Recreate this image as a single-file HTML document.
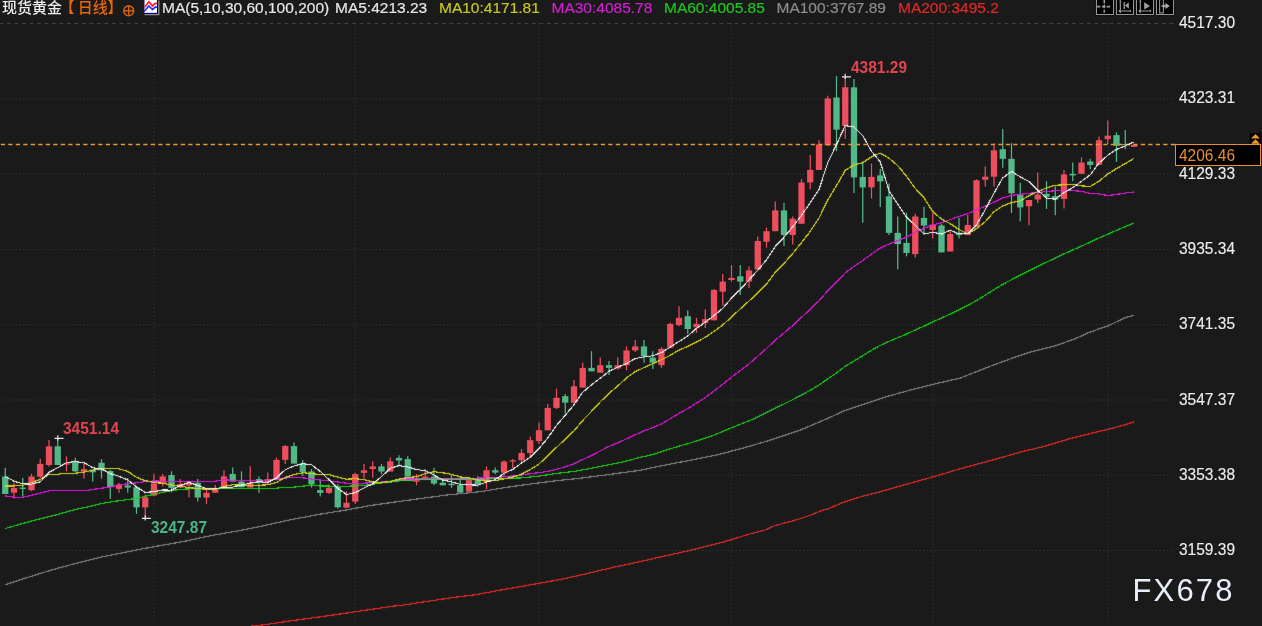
<!DOCTYPE html>
<html lang="zh-CN"><head><meta charset="utf-8"><title>现货黄金 日线</title>
<style>
html,body{margin:0;padding:0;background:#1a1a1a;}
body{width:1262px;height:626px;overflow:hidden;position:relative;font-family:"Liberation Sans","Noto Sans CJK SC",sans-serif;}
#chart{position:absolute;left:0;top:0;}
.t{position:absolute;white-space:nowrap;line-height:1;}
.lg{font-size:15.5px;top:-0.4px;-webkit-text-stroke:0.2px currentColor;}
.cj{font-size:15px;font-weight:500;font-family:'Liberation Sans','Noto Sans CJK SC',sans-serif;}
.ax{font-size:16.4px;color:#ececec;left:1178.5px;-webkit-text-stroke:0.15px currentColor;transform:scaleX(0.945);transform-origin:0 0;}
.b{font-weight:bold;font-size:16.4px;transform:scaleX(0.945);transform-origin:0 0;}
.btn{position:absolute;top:-4px;height:17.3px;width:16.1px;border:1.2px solid #959595;background:#000;box-shadow:0 0 1.5px 0.5px #0c0c0c;}
</style></head><body>
<svg id="chart" width="1262" height="626" viewBox="0 0 1262 626">
<g stroke="#3a3a3a" stroke-width="1" fill="none">
<line x1="0" y1="23.5" x2="1174" y2="23.5" stroke-dasharray="3.8 3.7" stroke-dashoffset="0.5" stroke="#424242"/>
<line x1="0.75" y1="98.8" x2="1174" y2="98.8" stroke-dasharray="1.2 2.55"/>
<line x1="0.75" y1="174.1" x2="1174" y2="174.1" stroke-dasharray="1.2 2.55"/>
<line x1="0.75" y1="249.4" x2="1174" y2="249.4" stroke-dasharray="1.2 2.55"/>
<line x1="0.75" y1="324.7" x2="1174" y2="324.7" stroke-dasharray="1.2 2.55"/>
<line x1="0.75" y1="400.0" x2="1174" y2="400.0" stroke-dasharray="1.2 2.55"/>
<line x1="0.75" y1="475.3" x2="1174" y2="475.3" stroke-dasharray="1.2 2.55"/>
<line x1="0.75" y1="550.6" x2="1174" y2="550.6" stroke-dasharray="1.2 2.55"/>
<line x1="153.9" y1="22.6" x2="153.9" y2="626" stroke-dasharray="1.2 2.55"/>
<line x1="355.1" y1="22.6" x2="355.1" y2="626" stroke-dasharray="1.2 2.55"/>
<line x1="539.0" y1="22.6" x2="539.0" y2="626" stroke-dasharray="1.2 2.55"/>
<line x1="731.4" y1="22.6" x2="731.4" y2="626" stroke-dasharray="1.2 2.55"/>
<line x1="932.9" y1="22.6" x2="932.9" y2="626" stroke-dasharray="1.2 2.55"/>
<line x1="1108.1" y1="22.6" x2="1108.1" y2="626" stroke-dasharray="1.2 2.55"/>
</g>
<rect x="1176" y="38.1" width="1" height="1" fill="#262626"/><rect x="1176" y="53.1" width="1" height="1" fill="#262626"/><rect x="1176" y="68.2" width="1" height="1" fill="#262626"/><rect x="1176" y="83.2" width="1" height="1" fill="#262626"/><rect x="1176" y="113.4" width="1" height="1" fill="#262626"/><rect x="1176" y="128.4" width="1" height="1" fill="#262626"/><rect x="1176" y="143.5" width="1" height="1" fill="#262626"/><rect x="1176" y="158.5" width="1" height="1" fill="#262626"/><rect x="1176" y="188.7" width="1" height="1" fill="#262626"/><rect x="1176" y="203.7" width="1" height="1" fill="#262626"/><rect x="1176" y="218.8" width="1" height="1" fill="#262626"/><rect x="1176" y="233.8" width="1" height="1" fill="#262626"/><rect x="1176" y="264.0" width="1" height="1" fill="#262626"/><rect x="1176" y="279.0" width="1" height="1" fill="#262626"/><rect x="1176" y="294.1" width="1" height="1" fill="#262626"/><rect x="1176" y="309.1" width="1" height="1" fill="#262626"/><rect x="1176" y="339.3" width="1" height="1" fill="#262626"/><rect x="1176" y="354.3" width="1" height="1" fill="#262626"/><rect x="1176" y="369.4" width="1" height="1" fill="#262626"/><rect x="1176" y="384.4" width="1" height="1" fill="#262626"/><rect x="1176" y="414.6" width="1" height="1" fill="#262626"/><rect x="1176" y="429.6" width="1" height="1" fill="#262626"/><rect x="1176" y="444.7" width="1" height="1" fill="#262626"/><rect x="1176" y="459.7" width="1" height="1" fill="#262626"/><rect x="1176" y="489.9" width="1" height="1" fill="#262626"/><rect x="1176" y="504.9" width="1" height="1" fill="#262626"/><rect x="1176" y="520.0" width="1" height="1" fill="#262626"/><rect x="1176" y="535.0" width="1" height="1" fill="#262626"/><rect x="1176" y="565.2" width="1" height="1" fill="#262626"/><rect x="1176" y="580.2" width="1" height="1" fill="#262626"/><rect x="1176" y="595.3" width="1" height="1" fill="#262626"/><rect x="1176" y="610.3" width="1" height="1" fill="#262626"/>
<g id="candles" shape-rendering="auto">
<line x1="5.25" y1="467.8" x2="5.25" y2="494.0" stroke="#53b888" stroke-width="1.25"/>
<rect x="2.10" y="476.5" width="6.30" height="17.5" fill="#53b888"/>
<line x1="14.00" y1="483.1" x2="14.00" y2="498.5" stroke="#ec4e5c" stroke-width="1.25"/>
<rect x="10.85" y="488.0" width="6.30" height="4.7" fill="#ec4e5c"/>
<line x1="22.75" y1="477.8" x2="22.75" y2="496.5" stroke="#53b888" stroke-width="1.25"/>
<rect x="19.60" y="487.6" width="6.30" height="1.3" fill="#53b888"/>
<line x1="31.50" y1="473.9" x2="31.50" y2="491.4" stroke="#ec4e5c" stroke-width="1.25"/>
<rect x="28.35" y="476.5" width="6.30" height="13.7" fill="#ec4e5c"/>
<line x1="40.25" y1="458.8" x2="40.25" y2="478.3" stroke="#ec4e5c" stroke-width="1.25"/>
<rect x="37.10" y="463.9" width="6.30" height="12.8" fill="#ec4e5c"/>
<line x1="49.00" y1="439.9" x2="49.00" y2="466.5" stroke="#ec4e5c" stroke-width="1.25"/>
<rect x="45.85" y="446.3" width="6.30" height="18.7" fill="#ec4e5c"/>
<line x1="57.75" y1="438.1" x2="57.75" y2="465.0" stroke="#53b888" stroke-width="1.25"/>
<rect x="54.60" y="446.3" width="6.30" height="18.7" fill="#53b888"/>
<line x1="66.50" y1="456.3" x2="66.50" y2="471.4" stroke="#ec4e5c" stroke-width="1.25"/>
<rect x="63.35" y="463.3" width="6.30" height="1.3" fill="#ec4e5c"/>
<line x1="75.25" y1="457.8" x2="75.25" y2="472.3" stroke="#53b888" stroke-width="1.25"/>
<rect x="72.10" y="461.6" width="6.30" height="9.7" fill="#53b888"/>
<line x1="84.00" y1="463.9" x2="84.00" y2="478.6" stroke="#ec4e5c" stroke-width="1.25"/>
<rect x="80.85" y="469.1" width="6.30" height="2.6" fill="#ec4e5c"/>
<line x1="92.75" y1="469.7" x2="92.75" y2="481.6" stroke="#53b888" stroke-width="1.25"/>
<rect x="89.60" y="469.7" width="6.30" height="2.6" fill="#53b888"/>
<line x1="101.50" y1="459.1" x2="101.50" y2="478.6" stroke="#53b888" stroke-width="1.25"/>
<rect x="98.35" y="462.7" width="6.30" height="7.7" fill="#53b888"/>
<line x1="110.25" y1="470.1" x2="110.25" y2="498.7" stroke="#53b888" stroke-width="1.25"/>
<rect x="107.10" y="471.0" width="6.30" height="16.2" fill="#53b888"/>
<line x1="119.00" y1="482.9" x2="119.00" y2="492.7" stroke="#ec4e5c" stroke-width="1.25"/>
<rect x="115.85" y="484.7" width="6.30" height="4.2" fill="#ec4e5c"/>
<line x1="127.75" y1="478.0" x2="127.75" y2="492.7" stroke="#53b888" stroke-width="1.25"/>
<rect x="124.60" y="485.4" width="6.30" height="2.2" fill="#53b888"/>
<line x1="136.50" y1="487.2" x2="136.50" y2="513.8" stroke="#53b888" stroke-width="1.25"/>
<rect x="133.35" y="487.2" width="6.30" height="20.2" fill="#53b888"/>
<line x1="145.25" y1="494.4" x2="145.25" y2="517.5" stroke="#ec4e5c" stroke-width="1.25"/>
<rect x="142.10" y="497.2" width="6.30" height="10.2" fill="#ec4e5c"/>
<line x1="154.00" y1="473.9" x2="154.00" y2="496.2" stroke="#ec4e5c" stroke-width="1.25"/>
<rect x="150.85" y="483.5" width="6.30" height="12.1" fill="#ec4e5c"/>
<line x1="162.75" y1="473.9" x2="162.75" y2="486.6" stroke="#ec4e5c" stroke-width="1.25"/>
<rect x="159.60" y="476.4" width="6.30" height="7.0" fill="#ec4e5c"/>
<line x1="171.50" y1="471.3" x2="171.50" y2="492.4" stroke="#53b888" stroke-width="1.25"/>
<rect x="168.35" y="475.1" width="6.30" height="12.8" fill="#53b888"/>
<line x1="180.25" y1="479.0" x2="180.25" y2="487.5" stroke="#ec4e5c" stroke-width="1.25"/>
<rect x="177.10" y="484.1" width="6.30" height="3.5" fill="#ec4e5c"/>
<line x1="189.00" y1="480.9" x2="189.00" y2="497.5" stroke="#ec4e5c" stroke-width="1.25"/>
<rect x="185.85" y="482.8" width="6.30" height="2.6" fill="#ec4e5c"/>
<line x1="197.75" y1="479.0" x2="197.75" y2="501.6" stroke="#53b888" stroke-width="1.25"/>
<rect x="194.60" y="482.8" width="6.30" height="14.7" fill="#53b888"/>
<line x1="206.50" y1="490.1" x2="206.50" y2="503.9" stroke="#ec4e5c" stroke-width="1.25"/>
<rect x="203.35" y="492.7" width="6.30" height="4.9" fill="#ec4e5c"/>
<line x1="215.25" y1="485.0" x2="215.25" y2="492.7" stroke="#ec4e5c" stroke-width="1.25"/>
<rect x="212.10" y="489.2" width="6.30" height="3.5" fill="#ec4e5c"/>
<line x1="224.00" y1="470.0" x2="224.00" y2="487.3" stroke="#ec4e5c" stroke-width="1.25"/>
<rect x="220.85" y="476.4" width="6.30" height="10.9" fill="#ec4e5c"/>
<line x1="232.75" y1="467.5" x2="232.75" y2="481.5" stroke="#53b888" stroke-width="1.25"/>
<rect x="229.60" y="473.9" width="6.30" height="7.7" fill="#53b888"/>
<line x1="241.50" y1="471.3" x2="241.50" y2="487.3" stroke="#53b888" stroke-width="1.25"/>
<rect x="238.35" y="481.5" width="6.30" height="5.8" fill="#53b888"/>
<line x1="250.25" y1="466.2" x2="250.25" y2="487.5" stroke="#ec4e5c" stroke-width="1.25"/>
<rect x="247.10" y="482.8" width="6.30" height="4.7" fill="#ec4e5c"/>
<line x1="259.00" y1="476.4" x2="259.00" y2="492.7" stroke="#53b888" stroke-width="1.25"/>
<rect x="255.85" y="479.0" width="6.30" height="3.8" fill="#53b888"/>
<line x1="267.75" y1="472.6" x2="267.75" y2="484.1" stroke="#ec4e5c" stroke-width="1.25"/>
<rect x="264.60" y="479.0" width="6.30" height="3.2" fill="#ec4e5c"/>
<line x1="276.50" y1="457.6" x2="276.50" y2="479.0" stroke="#ec4e5c" stroke-width="1.25"/>
<rect x="273.35" y="459.8" width="6.30" height="19.2" fill="#ec4e5c"/>
<line x1="285.25" y1="445.1" x2="285.25" y2="464.0" stroke="#ec4e5c" stroke-width="1.25"/>
<rect x="282.10" y="446.1" width="6.30" height="13.7" fill="#ec4e5c"/>
<line x1="294.00" y1="442.6" x2="294.00" y2="463.6" stroke="#53b888" stroke-width="1.25"/>
<rect x="290.85" y="446.1" width="6.30" height="17.5" fill="#53b888"/>
<line x1="302.75" y1="460.0" x2="302.75" y2="476.0" stroke="#53b888" stroke-width="1.25"/>
<rect x="299.60" y="463.5" width="6.30" height="8.4" fill="#53b888"/>
<line x1="311.50" y1="469.0" x2="311.50" y2="487.5" stroke="#53b888" stroke-width="1.25"/>
<rect x="308.35" y="471.5" width="6.30" height="12.8" fill="#53b888"/>
<line x1="320.25" y1="480.1" x2="320.25" y2="496.5" stroke="#53b888" stroke-width="1.25"/>
<rect x="317.10" y="490.1" width="6.30" height="2.8" fill="#53b888"/>
<line x1="329.00" y1="484.3" x2="329.00" y2="493.9" stroke="#ec4e5c" stroke-width="1.25"/>
<rect x="325.85" y="487.8" width="6.30" height="5.1" fill="#ec4e5c"/>
<line x1="337.75" y1="484.3" x2="337.75" y2="508.6" stroke="#53b888" stroke-width="1.25"/>
<rect x="334.60" y="486.9" width="6.30" height="20.4" fill="#53b888"/>
<line x1="346.50" y1="491.3" x2="346.50" y2="507.7" stroke="#ec4e5c" stroke-width="1.25"/>
<rect x="343.35" y="502.8" width="6.30" height="4.9" fill="#ec4e5c"/>
<line x1="355.25" y1="472.8" x2="355.25" y2="503.9" stroke="#ec4e5c" stroke-width="1.25"/>
<rect x="352.10" y="474.1" width="6.30" height="27.5" fill="#ec4e5c"/>
<line x1="364.00" y1="463.9" x2="364.00" y2="478.3" stroke="#ec4e5c" stroke-width="1.25"/>
<rect x="360.85" y="470.3" width="6.30" height="2.6" fill="#ec4e5c"/>
<line x1="372.75" y1="461.3" x2="372.75" y2="477.9" stroke="#ec4e5c" stroke-width="1.25"/>
<rect x="369.60" y="466.4" width="6.30" height="2.6" fill="#ec4e5c"/>
<line x1="381.50" y1="463.9" x2="381.50" y2="474.1" stroke="#53b888" stroke-width="1.25"/>
<rect x="378.35" y="466.4" width="6.30" height="5.1" fill="#53b888"/>
<line x1="390.25" y1="457.5" x2="390.25" y2="471.5" stroke="#ec4e5c" stroke-width="1.25"/>
<rect x="387.10" y="461.3" width="6.30" height="10.2" fill="#ec4e5c"/>
<line x1="399.00" y1="455.3" x2="399.00" y2="466.4" stroke="#53b888" stroke-width="1.25"/>
<rect x="395.85" y="457.9" width="6.30" height="2.6" fill="#53b888"/>
<line x1="407.75" y1="456.2" x2="407.75" y2="476.6" stroke="#53b888" stroke-width="1.25"/>
<rect x="404.60" y="459.1" width="6.30" height="17.5" fill="#53b888"/>
<line x1="416.50" y1="474.1" x2="416.50" y2="485.2" stroke="#ec4e5c" stroke-width="1.25"/>
<rect x="413.35" y="480.2" width="6.30" height="1.5" fill="#ec4e5c"/>
<line x1="425.25" y1="469.0" x2="425.25" y2="478.3" stroke="#ec4e5c" stroke-width="1.25"/>
<rect x="422.10" y="476.6" width="6.30" height="1.7" fill="#ec4e5c"/>
<line x1="434.00" y1="467.7" x2="434.00" y2="485.2" stroke="#53b888" stroke-width="1.25"/>
<rect x="430.85" y="476.6" width="6.30" height="7.0" fill="#53b888"/>
<line x1="442.75" y1="480.1" x2="442.75" y2="485.2" stroke="#53b888" stroke-width="1.25"/>
<rect x="439.60" y="482.7" width="6.30" height="2.6" fill="#53b888"/>
<line x1="451.50" y1="475.0" x2="451.50" y2="487.8" stroke="#53b888" stroke-width="1.25"/>
<rect x="448.35" y="483.7" width="6.30" height="1.5" fill="#53b888"/>
<line x1="460.25" y1="479.4" x2="460.25" y2="492.6" stroke="#53b888" stroke-width="1.25"/>
<rect x="457.10" y="485.2" width="6.30" height="7.4" fill="#53b888"/>
<line x1="469.00" y1="480.1" x2="469.00" y2="492.6" stroke="#ec4e5c" stroke-width="1.25"/>
<rect x="465.85" y="480.1" width="6.30" height="11.5" fill="#ec4e5c"/>
<line x1="477.75" y1="476.2" x2="477.75" y2="486.5" stroke="#53b888" stroke-width="1.25"/>
<rect x="474.60" y="480.1" width="6.30" height="4.2" fill="#53b888"/>
<line x1="486.50" y1="466.3" x2="486.50" y2="489.0" stroke="#ec4e5c" stroke-width="1.25"/>
<rect x="483.35" y="470.2" width="6.30" height="11.8" fill="#ec4e5c"/>
<line x1="495.25" y1="467.5" x2="495.25" y2="474.3" stroke="#53b888" stroke-width="1.25"/>
<rect x="492.10" y="470.2" width="6.30" height="2.4" fill="#53b888"/>
<line x1="504.00" y1="460.3" x2="504.00" y2="476.2" stroke="#ec4e5c" stroke-width="1.25"/>
<rect x="500.85" y="461.5" width="6.30" height="11.1" fill="#ec4e5c"/>
<line x1="512.75" y1="459.0" x2="512.75" y2="467.9" stroke="#ec4e5c" stroke-width="1.25"/>
<rect x="509.60" y="460.3" width="6.30" height="1.3" fill="#ec4e5c"/>
<line x1="521.50" y1="449.1" x2="521.50" y2="462.8" stroke="#ec4e5c" stroke-width="1.25"/>
<rect x="518.35" y="453.0" width="6.30" height="7.3" fill="#ec4e5c"/>
<line x1="530.25" y1="436.4" x2="530.25" y2="456.4" stroke="#ec4e5c" stroke-width="1.25"/>
<rect x="527.10" y="440.2" width="6.30" height="12.8" fill="#ec4e5c"/>
<line x1="539.00" y1="422.6" x2="539.00" y2="444.0" stroke="#ec4e5c" stroke-width="1.25"/>
<rect x="535.85" y="430.2" width="6.30" height="10.9" fill="#ec4e5c"/>
<line x1="547.75" y1="403.9" x2="547.75" y2="430.2" stroke="#ec4e5c" stroke-width="1.25"/>
<rect x="544.60" y="407.9" width="6.30" height="22.4" fill="#ec4e5c"/>
<line x1="556.50" y1="388.7" x2="556.50" y2="409.0" stroke="#ec4e5c" stroke-width="1.25"/>
<rect x="553.35" y="397.8" width="6.30" height="10.1" fill="#ec4e5c"/>
<line x1="565.25" y1="394.0" x2="565.25" y2="413.5" stroke="#53b888" stroke-width="1.25"/>
<rect x="562.10" y="396.2" width="6.30" height="6.5" fill="#53b888"/>
<line x1="574.00" y1="379.9" x2="574.00" y2="402.8" stroke="#ec4e5c" stroke-width="1.25"/>
<rect x="570.85" y="386.3" width="6.30" height="16.4" fill="#ec4e5c"/>
<line x1="582.75" y1="362.7" x2="582.75" y2="387.6" stroke="#ec4e5c" stroke-width="1.25"/>
<rect x="579.60" y="367.9" width="6.30" height="19.6" fill="#ec4e5c"/>
<line x1="591.50" y1="351.2" x2="591.50" y2="371.3" stroke="#53b888" stroke-width="1.25"/>
<rect x="588.35" y="367.9" width="6.30" height="3.4" fill="#53b888"/>
<line x1="600.25" y1="357.6" x2="600.25" y2="372.7" stroke="#ec4e5c" stroke-width="1.25"/>
<rect x="597.10" y="365.2" width="6.30" height="7.5" fill="#ec4e5c"/>
<line x1="609.00" y1="361.1" x2="609.00" y2="375.1" stroke="#53b888" stroke-width="1.25"/>
<rect x="605.85" y="365.2" width="6.30" height="2.7" fill="#53b888"/>
<line x1="617.75" y1="357.6" x2="617.75" y2="369.5" stroke="#ec4e5c" stroke-width="1.25"/>
<rect x="614.60" y="365.2" width="6.30" height="3.2" fill="#ec4e5c"/>
<line x1="626.50" y1="346.4" x2="626.50" y2="370.3" stroke="#ec4e5c" stroke-width="1.25"/>
<rect x="623.35" y="350.4" width="6.30" height="14.9" fill="#ec4e5c"/>
<line x1="635.25" y1="340.0" x2="635.25" y2="352.0" stroke="#ec4e5c" stroke-width="1.25"/>
<rect x="632.10" y="346.4" width="6.30" height="4.0" fill="#ec4e5c"/>
<line x1="644.00" y1="340.0" x2="644.00" y2="362.7" stroke="#53b888" stroke-width="1.25"/>
<rect x="640.85" y="346.4" width="6.30" height="9.9" fill="#53b888"/>
<line x1="652.75" y1="351.2" x2="652.75" y2="369.1" stroke="#53b888" stroke-width="1.25"/>
<rect x="649.60" y="357.6" width="6.30" height="5.1" fill="#53b888"/>
<line x1="661.50" y1="347.2" x2="661.50" y2="367.9" stroke="#ec4e5c" stroke-width="1.25"/>
<rect x="658.35" y="348.8" width="6.30" height="16.4" fill="#ec4e5c"/>
<line x1="670.25" y1="322.8" x2="670.25" y2="347.5" stroke="#ec4e5c" stroke-width="1.25"/>
<rect x="667.10" y="323.9" width="6.30" height="23.6" fill="#ec4e5c"/>
<line x1="679.00" y1="306.3" x2="679.00" y2="326.3" stroke="#ec4e5c" stroke-width="1.25"/>
<rect x="675.85" y="317.8" width="6.30" height="7.3" fill="#ec4e5c"/>
<line x1="687.75" y1="310.3" x2="687.75" y2="333.8" stroke="#53b888" stroke-width="1.25"/>
<rect x="684.60" y="316.2" width="6.30" height="12.8" fill="#53b888"/>
<line x1="696.50" y1="317.8" x2="696.50" y2="332.7" stroke="#ec4e5c" stroke-width="1.25"/>
<rect x="693.35" y="323.9" width="6.30" height="3.2" fill="#ec4e5c"/>
<line x1="705.25" y1="309.2" x2="705.25" y2="327.9" stroke="#ec4e5c" stroke-width="1.25"/>
<rect x="702.10" y="319.1" width="6.30" height="3.7" fill="#ec4e5c"/>
<line x1="714.00" y1="289.1" x2="714.00" y2="320.4" stroke="#ec4e5c" stroke-width="1.25"/>
<rect x="710.85" y="290.0" width="6.30" height="30.3" fill="#ec4e5c"/>
<line x1="722.75" y1="274.1" x2="722.75" y2="305.5" stroke="#ec4e5c" stroke-width="1.25"/>
<rect x="719.60" y="281.6" width="6.30" height="10.1" fill="#ec4e5c"/>
<line x1="731.50" y1="265.1" x2="731.50" y2="281.6" stroke="#ec4e5c" stroke-width="1.25"/>
<rect x="728.35" y="277.9" width="6.30" height="2.1" fill="#ec4e5c"/>
<line x1="740.25" y1="265.1" x2="740.25" y2="295.1" stroke="#53b888" stroke-width="1.25"/>
<rect x="737.10" y="276.3" width="6.30" height="5.3" fill="#53b888"/>
<line x1="749.00" y1="266.4" x2="749.00" y2="287.9" stroke="#ec4e5c" stroke-width="1.25"/>
<rect x="745.85" y="270.4" width="6.30" height="11.2" fill="#ec4e5c"/>
<line x1="757.75" y1="236.5" x2="757.75" y2="269.6" stroke="#ec4e5c" stroke-width="1.25"/>
<rect x="754.60" y="241.0" width="6.30" height="28.6" fill="#ec4e5c"/>
<line x1="766.50" y1="227.6" x2="766.50" y2="247.7" stroke="#ec4e5c" stroke-width="1.25"/>
<rect x="763.35" y="231.2" width="6.30" height="10.5" fill="#ec4e5c"/>
<line x1="775.25" y1="201.5" x2="775.25" y2="231.2" stroke="#ec4e5c" stroke-width="1.25"/>
<rect x="772.10" y="210.4" width="6.30" height="20.8" fill="#ec4e5c"/>
<line x1="784.00" y1="203.0" x2="784.00" y2="246.1" stroke="#53b888" stroke-width="1.25"/>
<rect x="780.85" y="210.4" width="6.30" height="24.6" fill="#53b888"/>
<line x1="792.75" y1="216.4" x2="792.75" y2="244.6" stroke="#ec4e5c" stroke-width="1.25"/>
<rect x="789.60" y="218.7" width="6.30" height="16.3" fill="#ec4e5c"/>
<line x1="801.50" y1="179.1" x2="801.50" y2="223.8" stroke="#ec4e5c" stroke-width="1.25"/>
<rect x="798.35" y="182.5" width="6.30" height="41.3" fill="#ec4e5c"/>
<line x1="810.25" y1="155.0" x2="810.25" y2="189.2" stroke="#ec4e5c" stroke-width="1.25"/>
<rect x="807.10" y="169.9" width="6.30" height="12.5" fill="#ec4e5c"/>
<line x1="819.00" y1="140.0" x2="819.00" y2="169.9" stroke="#ec4e5c" stroke-width="1.25"/>
<rect x="815.85" y="144.5" width="6.30" height="25.5" fill="#ec4e5c"/>
<line x1="827.75" y1="95.8" x2="827.75" y2="145.4" stroke="#ec4e5c" stroke-width="1.25"/>
<rect x="824.60" y="98.4" width="6.30" height="46.9" fill="#ec4e5c"/>
<line x1="836.50" y1="76.1" x2="836.50" y2="151.2" stroke="#53b888" stroke-width="1.25"/>
<rect x="833.35" y="97.5" width="6.30" height="32.2" fill="#53b888"/>
<line x1="845.25" y1="76.8" x2="845.25" y2="138.7" stroke="#ec4e5c" stroke-width="1.25"/>
<rect x="842.10" y="87.3" width="6.30" height="38.7" fill="#ec4e5c"/>
<line x1="854.00" y1="79.0" x2="854.00" y2="193.0" stroke="#53b888" stroke-width="1.25"/>
<rect x="850.85" y="87.3" width="6.30" height="90.1" fill="#53b888"/>
<line x1="862.75" y1="162.4" x2="862.75" y2="222.8" stroke="#53b888" stroke-width="1.25"/>
<rect x="859.60" y="176.9" width="6.30" height="10.5" fill="#53b888"/>
<line x1="871.50" y1="163.5" x2="871.50" y2="198.6" stroke="#ec4e5c" stroke-width="1.25"/>
<rect x="868.35" y="176.9" width="6.30" height="10.5" fill="#ec4e5c"/>
<line x1="880.25" y1="169.1" x2="880.25" y2="207.1" stroke="#53b888" stroke-width="1.25"/>
<rect x="877.10" y="175.4" width="6.30" height="6.0" fill="#53b888"/>
<line x1="889.00" y1="183.6" x2="889.00" y2="235.1" stroke="#53b888" stroke-width="1.25"/>
<rect x="885.85" y="196.4" width="6.30" height="36.5" fill="#53b888"/>
<line x1="897.75" y1="216.5" x2="897.75" y2="269.3" stroke="#53b888" stroke-width="1.25"/>
<rect x="894.60" y="232.9" width="6.30" height="11.2" fill="#53b888"/>
<line x1="906.50" y1="212.7" x2="906.50" y2="256.4" stroke="#53b888" stroke-width="1.25"/>
<rect x="903.35" y="242.9" width="6.30" height="10.1" fill="#53b888"/>
<line x1="915.25" y1="213.8" x2="915.25" y2="257.5" stroke="#ec4e5c" stroke-width="1.25"/>
<rect x="912.10" y="216.5" width="6.30" height="37.6" fill="#ec4e5c"/>
<line x1="924.00" y1="206.7" x2="924.00" y2="235.1" stroke="#53b888" stroke-width="1.25"/>
<rect x="920.85" y="217.9" width="6.30" height="7.6" fill="#53b888"/>
<line x1="932.75" y1="212.7" x2="932.75" y2="238.5" stroke="#ec4e5c" stroke-width="1.25"/>
<rect x="929.60" y="224.6" width="6.30" height="5.4" fill="#ec4e5c"/>
<line x1="941.50" y1="223.9" x2="941.50" y2="252.3" stroke="#53b888" stroke-width="1.25"/>
<rect x="938.35" y="225.5" width="6.30" height="26.9" fill="#53b888"/>
<line x1="950.25" y1="231.3" x2="950.25" y2="251.4" stroke="#ec4e5c" stroke-width="1.25"/>
<rect x="947.10" y="234.0" width="6.30" height="17.5" fill="#ec4e5c"/>
<line x1="959.00" y1="217.9" x2="959.00" y2="238.5" stroke="#53b888" stroke-width="1.25"/>
<rect x="955.85" y="232.9" width="6.30" height="2.2" fill="#53b888"/>
<line x1="967.75" y1="215.0" x2="967.75" y2="235.1" stroke="#ec4e5c" stroke-width="1.25"/>
<rect x="964.60" y="225.0" width="6.30" height="10.1" fill="#ec4e5c"/>
<line x1="976.50" y1="179.2" x2="976.50" y2="226.8" stroke="#ec4e5c" stroke-width="1.25"/>
<rect x="973.35" y="180.3" width="6.30" height="46.5" fill="#ec4e5c"/>
<line x1="985.25" y1="166.4" x2="985.25" y2="186.5" stroke="#ec4e5c" stroke-width="1.25"/>
<rect x="982.10" y="176.7" width="6.30" height="3.1" fill="#ec4e5c"/>
<line x1="994.00" y1="143.6" x2="994.00" y2="186.5" stroke="#ec4e5c" stroke-width="1.25"/>
<rect x="990.85" y="150.3" width="6.30" height="26.4" fill="#ec4e5c"/>
<line x1="1002.75" y1="129.0" x2="1002.75" y2="167.7" stroke="#53b888" stroke-width="1.25"/>
<rect x="999.60" y="149.2" width="6.30" height="9.6" fill="#53b888"/>
<line x1="1011.50" y1="143.1" x2="1011.50" y2="212.9" stroke="#53b888" stroke-width="1.25"/>
<rect x="1008.35" y="158.8" width="6.30" height="34.5" fill="#53b888"/>
<line x1="1020.25" y1="182.7" x2="1020.25" y2="221.4" stroke="#53b888" stroke-width="1.25"/>
<rect x="1017.10" y="194.6" width="6.30" height="12.8" fill="#53b888"/>
<line x1="1029.00" y1="200.0" x2="1029.00" y2="225.2" stroke="#ec4e5c" stroke-width="1.25"/>
<rect x="1025.85" y="200.0" width="6.30" height="6.3" fill="#ec4e5c"/>
<line x1="1037.75" y1="172.7" x2="1037.75" y2="202.9" stroke="#ec4e5c" stroke-width="1.25"/>
<rect x="1034.60" y="194.6" width="6.30" height="4.9" fill="#ec4e5c"/>
<line x1="1046.50" y1="181.2" x2="1046.50" y2="208.9" stroke="#53b888" stroke-width="1.25"/>
<rect x="1043.35" y="193.9" width="6.30" height="2.9" fill="#53b888"/>
<line x1="1055.25" y1="186.5" x2="1055.25" y2="215.2" stroke="#53b888" stroke-width="1.25"/>
<rect x="1052.10" y="196.1" width="6.30" height="3.4" fill="#53b888"/>
<line x1="1064.00" y1="170.0" x2="1064.00" y2="208.5" stroke="#ec4e5c" stroke-width="1.25"/>
<rect x="1060.85" y="174.4" width="6.30" height="24.6" fill="#ec4e5c"/>
<line x1="1072.75" y1="162.6" x2="1072.75" y2="181.2" stroke="#53b888" stroke-width="1.25"/>
<rect x="1069.60" y="173.8" width="6.30" height="1.6" fill="#53b888"/>
<line x1="1081.50" y1="157.4" x2="1081.50" y2="173.8" stroke="#ec4e5c" stroke-width="1.25"/>
<rect x="1078.35" y="162.6" width="6.30" height="11.2" fill="#ec4e5c"/>
<line x1="1090.25" y1="158.8" x2="1090.25" y2="169.3" stroke="#53b888" stroke-width="1.25"/>
<rect x="1087.10" y="161.5" width="6.30" height="3.4" fill="#53b888"/>
<line x1="1099.00" y1="136.4" x2="1099.00" y2="164.8" stroke="#ec4e5c" stroke-width="1.25"/>
<rect x="1095.85" y="140.2" width="6.30" height="24.6" fill="#ec4e5c"/>
<line x1="1107.75" y1="120.7" x2="1107.75" y2="144.0" stroke="#ec4e5c" stroke-width="1.25"/>
<rect x="1104.60" y="135.7" width="6.30" height="3.4" fill="#ec4e5c"/>
<line x1="1116.50" y1="132.4" x2="1116.50" y2="161.9" stroke="#53b888" stroke-width="1.25"/>
<rect x="1113.35" y="135.1" width="6.30" height="10.7" fill="#53b888"/>
<line x1="1125.25" y1="130.1" x2="1125.25" y2="149.2" stroke="#53b888" stroke-width="1.25"/>
<rect x="1122.10" y="144.0" width="6.30" height="1.0" fill="#53b888"/>
<line x1="1134.00" y1="144.9" x2="1134.00" y2="146.9" stroke="#ec4e5c" stroke-width="1.25"/>
<rect x="1130.85" y="144.9" width="6.30" height="2.0" fill="#ec4e5c"/>
</g>
<line x1="-6.7" y1="144.5" x2="1176" y2="144.5" stroke="#ee962c" stroke-width="1.3" stroke-dasharray="4.2 3.3"/>
<defs><filter id="sb" x="-1%" y="-1%" width="102%" height="102%"><feConvolveMatrix order="3" kernelMatrix="0.015 0.07 0.015 0.07 0.66 0.07 0.015 0.07 0.015" edgeMode="none" preserveAlpha="false"/></filter></defs><g filter="url(#sb)">
<polyline points="249.6,626.3 265.6,624.6 291.1,620.8 316.7,617.3 342.2,613.7 355.0,611.8 367.8,609.9 393.4,606.1 400.0,605.6 425.6,601.6 451.1,597.8 476.7,594.5 502.2,589.8 527.8,585.4 539.3,583.2 560.0,579.6 585.6,573.9 611.1,567.8 636.7,562.4 662.2,556.6 687.8,550.9 720.0,542.9 731.5,539.7 745.6,535.2 764.7,530.1 775.0,525.6 796.7,519.8 812.0,514.7 819.7,511.2 828.6,508.6 842.7,502.6 860.6,496.8 880.0,491.8 905.6,484.5 933.0,476.9 956.7,469.8 982.2,462.8 1007.8,455.8 1020.6,452.0 1045.6,446.0 1071.1,438.3 1096.7,431.9 1108.2,429.4 1122.2,425.6 1133.8,422.0" fill="none" stroke="#f02828" stroke-width="1.2" stroke-linejoin="round" shape-rendering="crispEdges"/>
<polyline points="5.1,584.9 25.6,578.1 51.1,570.1 76.7,563.2 102.2,556.8 127.8,551.7 153.4,546.8 160.0,545.7 185.6,541.1 211.1,535.6 236.7,531.1 262.2,526.0 287.8,520.3 320.0,514.2 345.6,510.1 371.1,505.4 396.7,501.8 422.2,498.3 447.8,494.9 480.0,491.7 505.6,487.5 531.1,483.9 556.7,480.7 582.2,478.0 607.8,474.7 640.0,470.3 665.6,464.9 691.1,460.1 716.7,455.0 742.2,448.3 767.8,440.9 800.0,430.2 825.6,419.4 844.7,410.5 870.3,402.2 889.5,395.8 915.0,388.8 932.9,384.3 960.0,378.2 988.8,366.8 1010.3,358.9 1029.0,352.4 1054.9,346.0 1075.0,338.8 1089.4,332.3 1108.1,325.8 1125.3,317.7 1133.8,315.4" fill="none" stroke="#828282" stroke-width="1.2" stroke-linejoin="round" shape-rendering="crispEdges"/>
<polyline points="5.2,528.5 14.0,526.0 22.8,523.4 31.5,521.1 40.2,518.8 49.0,516.6 57.8,514.5 66.5,511.9 75.2,509.6 84.0,507.7 92.8,505.8 101.5,503.6 110.2,502.0 119.0,500.7 127.8,499.6 136.5,498.4 145.2,496.2 154.0,494.2 162.8,492.4 171.5,490.7 180.2,489.4 189.0,488.9 197.8,488.8 206.5,488.8 215.2,488.7 224.0,488.3 232.8,488.3 241.5,488.3 250.2,488.2 259.0,488.2 267.8,488.2 276.5,488.2 285.2,487.3 294.0,487.1 302.8,486.2 311.5,484.9 320.2,486.0 329.0,486.1 337.8,486.1 346.5,486.2 355.2,486.0 364.0,485.6 372.8,484.3 381.5,483.0 390.2,482.1 399.0,480.9 407.8,480.4 416.5,479.7 425.2,479.7 434.0,479.6 442.8,479.6 451.5,479.5 460.2,479.5 469.0,479.4 477.8,479.3 486.5,478.7 495.2,478.6 504.0,478.5 512.8,478.2 521.5,477.9 530.2,477.0 539.0,476.1 547.8,474.7 556.5,473.4 565.2,472.4 574.0,471.4 582.8,469.8 591.5,468.2 600.2,466.5 609.0,464.8 617.8,463.0 626.5,461.0 635.2,458.7 644.0,456.5 652.8,454.4 661.5,451.8 670.2,448.9 679.0,446.1 687.8,443.7 696.5,440.9 705.2,438.2 714.0,435.0 722.8,431.4 731.5,427.8 740.2,424.3 749.0,420.9 757.8,416.9 766.5,412.6 775.2,408.1 784.0,404.0 792.8,399.6 801.5,395.0 810.2,390.4 819.0,385.1 827.8,378.9 836.5,372.9 845.2,366.2 854.0,361.0 862.8,355.7 871.5,350.2 880.2,345.4 889.0,341.4 897.8,337.7 906.5,334.1 915.2,330.0 924.0,326.1 932.8,321.9 941.5,318.1 950.2,314.0 959.0,309.9 967.8,305.5 976.5,300.5 985.2,295.2 994.0,289.7 1002.8,284.3 1011.5,279.7 1020.2,275.2 1029.0,270.9 1037.8,266.4 1046.5,262.2 1055.2,258.2 1064.0,253.9 1072.8,250.0 1081.5,246.1 1090.2,242.1 1099.0,238.0 1107.8,234.2 1116.5,230.4 1125.2,226.7 1134.0,223.0" fill="none" stroke="#1ed01e" stroke-width="1.2" stroke-linejoin="round" shape-rendering="crispEdges"/>
<polyline points="5.2,495.9 14.0,497.2 22.8,497.2 31.5,495.3 40.2,493.1 49.0,490.8 57.8,490.8 66.5,490.8 75.2,490.8 84.0,490.8 92.8,489.5 101.5,488.2 110.2,487.2 119.0,484.7 127.8,483.8 136.5,482.9 145.2,481.6 154.0,481.0 162.8,481.2 171.5,481.2 180.2,481.2 189.0,481.2 197.8,481.2 206.5,481.2 215.2,481.2 224.0,479.8 232.8,480.4 241.5,480.6 250.2,480.6 259.0,480.9 267.8,480.4 276.5,479.4 285.2,478.0 294.0,477.6 302.8,477.8 311.5,479.1 320.2,480.0 329.0,480.8 337.8,482.0 346.5,483.2 355.2,483.2 364.0,483.2 372.8,482.5 381.5,482.1 390.2,481.2 399.0,479.7 407.8,479.0 416.5,478.9 425.2,478.9 434.0,478.7 442.8,478.8 451.5,478.8 460.2,478.7 469.0,478.3 477.8,478.1 486.5,477.9 495.2,477.6 504.0,476.7 512.8,476.0 521.5,475.0 530.2,473.7 539.0,472.7 547.8,471.4 556.5,469.2 565.2,466.9 574.0,463.7 582.8,459.5 591.5,455.6 600.2,450.9 609.0,446.4 617.8,442.8 626.5,438.8 635.2,434.8 644.0,430.9 652.8,427.6 661.5,423.9 670.2,418.8 679.0,413.4 687.8,408.5 696.5,403.2 705.2,397.6 714.0,391.1 722.8,384.1 731.5,377.3 740.2,370.6 749.0,363.9 757.8,356.2 766.5,348.5 775.2,340.2 784.0,332.9 792.8,325.5 801.5,317.3 810.2,309.4 819.0,300.9 827.8,290.8 836.5,282.2 845.2,272.9 854.0,266.4 862.8,260.5 871.5,254.1 880.2,248.0 889.0,244.1 897.8,240.6 906.5,237.2 915.2,232.3 924.0,228.2 932.8,224.9 941.5,222.7 950.2,219.6 959.0,216.6 967.8,213.5 976.5,209.8 985.2,206.3 994.0,202.1 1002.8,198.0 1011.5,195.4 1020.2,194.3 1029.0,193.2 1037.8,192.7 1046.5,191.4 1055.2,190.8 1064.0,190.5 1072.8,190.7 1081.5,191.3 1090.2,193.5 1099.0,193.9 1107.8,195.5 1116.5,194.4 1125.2,193.0 1134.0,192.0" fill="none" stroke="#de1ede" stroke-width="1.2" stroke-linejoin="round" shape-rendering="crispEdges"/>
<polyline points="5.2,485.9 14.0,485.9 22.8,485.4 31.5,482.5 40.2,479.5 49.0,474.4 57.8,474.2 66.5,473.2 75.2,473.2 84.0,472.2 92.8,470.1 101.5,468.3 110.2,468.1 119.0,468.9 127.8,471.3 136.5,477.4 145.2,480.6 154.0,482.6 162.8,483.2 171.5,485.0 180.2,486.2 189.0,487.5 197.8,488.5 206.5,489.3 215.2,489.5 224.0,486.4 232.8,484.8 241.5,485.2 250.2,485.8 259.0,485.3 267.8,484.8 276.5,482.5 285.2,477.4 294.0,474.5 302.8,472.7 311.5,473.5 320.2,474.7 329.0,474.7 337.8,477.2 346.5,479.2 355.2,478.7 364.0,479.7 372.8,481.7 381.5,482.5 390.2,481.5 399.0,479.1 407.8,477.5 416.5,476.7 425.2,473.6 434.0,471.7 442.8,472.8 451.5,474.3 460.2,476.9 469.0,477.8 477.8,480.1 486.5,481.1 495.2,480.7 504.0,478.8 512.8,477.2 521.5,474.1 530.2,469.6 539.0,464.1 547.8,455.6 556.5,447.4 565.2,439.2 574.0,430.9 582.8,420.4 591.5,411.4 600.2,401.9 609.0,393.4 617.8,385.9 626.5,377.9 635.2,371.7 644.0,367.6 652.8,363.6 661.5,359.8 670.2,355.4 679.0,350.1 687.8,346.4 696.5,342.0 705.2,337.4 714.0,331.4 722.8,324.9 731.5,317.1 740.2,308.9 749.0,301.1 757.8,292.8 766.5,284.2 775.2,272.3 784.0,263.4 792.8,253.4 801.5,242.6 810.2,231.4 819.0,218.1 827.8,199.8 836.5,185.7 845.2,170.3 854.0,165.0 862.8,162.7 871.5,156.9 880.2,153.1 889.0,158.2 897.8,165.6 906.5,176.4 915.2,188.2 924.0,197.8 932.8,211.6 941.5,219.1 950.2,223.7 959.0,229.5 967.8,233.9 976.5,228.6 985.2,221.9 994.0,211.6 1002.8,205.9 1011.5,202.6 1020.2,200.9 1029.0,195.7 1037.8,191.7 1046.5,187.9 1055.2,185.3 1064.0,184.8 1072.8,184.6 1081.5,185.9 1090.2,186.5 1099.0,181.2 1107.8,174.0 1116.5,168.6 1125.2,163.6 1134.0,158.4" fill="none" stroke="#d6d614" stroke-width="1.2" stroke-linejoin="round" shape-rendering="crispEdges"/>
<polyline points="5.2,476.5 14.0,481.2 22.8,483.8 31.5,484.1 40.2,481.8 49.0,472.3 57.8,467.7 66.5,462.6 75.2,461.6 84.0,462.6 92.8,467.8 101.5,468.9 110.2,473.6 119.0,476.3 127.8,480.0 136.5,487.0 145.2,492.4 154.0,491.7 162.8,490.0 171.5,490.1 180.2,485.4 189.0,482.5 197.8,485.4 206.5,488.6 215.2,488.9 224.0,487.3 232.8,487.1 241.5,485.0 250.2,483.1 259.0,481.8 267.8,482.3 276.5,477.9 285.2,469.7 294.0,465.9 302.8,463.7 311.5,464.8 320.2,471.4 329.0,479.7 337.8,488.4 346.5,494.6 355.2,492.6 364.0,488.1 372.8,483.8 381.5,476.6 390.2,468.3 399.0,465.6 407.8,466.9 416.5,469.6 425.2,470.6 434.0,475.1 442.8,480.1 451.5,481.8 460.2,484.3 469.0,484.9 477.8,485.1 486.5,482.1 495.2,479.6 504.0,473.4 512.8,469.4 521.5,463.1 530.2,457.1 539.0,448.6 547.8,437.9 556.5,425.4 565.2,415.4 574.0,404.6 582.8,392.1 591.5,384.8 600.2,378.3 609.0,371.3 617.8,367.1 626.5,363.6 635.2,358.6 644.0,356.8 652.8,355.8 661.5,352.5 670.2,347.2 679.0,341.5 687.8,336.0 696.5,328.3 705.2,322.3 714.0,315.6 722.8,308.3 731.5,298.1 740.2,289.6 749.0,279.9 757.8,270.1 766.5,260.0 775.2,246.5 784.0,237.2 792.8,226.8 801.5,215.1 810.2,202.9 819.0,189.7 827.8,162.4 836.5,144.6 845.2,125.6 854.0,127.0 862.8,135.6 871.5,151.3 880.2,161.7 889.0,190.8 897.8,204.1 906.5,217.2 915.2,225.2 924.0,234.0 932.8,232.3 941.5,234.0 950.2,230.2 959.0,233.9 967.8,233.8 976.5,224.9 985.2,209.8 994.0,193.1 1002.8,177.8 1011.5,171.5 1020.2,176.9 1029.0,181.5 1037.8,190.4 1046.5,198.0 1055.2,199.2 1064.0,192.7 1072.8,187.7 1081.5,181.3 1090.2,174.9 1099.0,163.1 1107.8,155.3 1116.5,149.4 1125.2,145.9 1134.0,141.9" fill="none" stroke="#f6f6f6" stroke-width="1.1" stroke-linejoin="round" shape-rendering="crispEdges"/>
</g>
<path d="M54.5 438.4h9M57.8 435.3v5.2" stroke="#e8e8e8" stroke-width="1.2" fill="none"/>
<path d="M141.9 518.4h9M145.2 515.3v5.2" stroke="#e8e8e8" stroke-width="1.2" fill="none"/>
<path d="M842.0 76.9h9M845.2 73.8v5.2" stroke="#e8e8e8" stroke-width="1.2" fill="none"/>
</svg>
<div class="t cj" style="left:2px;top:0.3px;color:#ececec;">现货黄金</div>
<div class="t cj" style="left:59.5px;top:0.3px;color:#ea660a;">【</div>
<div class="t cj" style="left:77.8px;top:0.3px;color:#ea660a;">日线</div>
<div class="t cj" style="left:107.5px;top:0.3px;color:#ea660a;">】</div>
<svg class="t" style="left:120px;top:2px" width="18" height="18" viewBox="120 2 18 18"><circle cx="128.7" cy="10.8" r="4.95" fill="none" stroke="#d2600a" stroke-width="1.6"/><path d="M123.7 10.8h10M128.7 5.8v10" stroke="#d2600a" stroke-width="1.4"/></svg>
<svg class="t" style="left:142px;top:0px" width="20" height="17" viewBox="142 0 20 17"><path d="M144.6 14.6h14.2v-14" fill="none" stroke="#8a8a8a" stroke-width="1.4"/><rect x="143.9" y="-2" width="13.6" height="15.4" fill="#fff" stroke="#00008b" stroke-width="1.1"/><path d="M144.5 7.3L148.9 1.8 152.5 5.9 155.2 3.3 157.2 3.4" fill="none" stroke="#ff2020" stroke-width="1.7"/><path d="M144.3 11.3L148.9 5.9 152.5 9.5 155.2 7.1 157.2 7.1" fill="none" stroke="#3030ff" stroke-width="1.7"/></svg>
<div class="t lg" style="left:162px;color:#e6e6e6;">MA(5,10,30,60,100,200)</div>
<div class="t lg" style="left:335px;color:#e6e6e6;">MA5:4213.23</div>
<div class="t lg" style="left:439px;color:#c8c820;">MA10:4171.81</div>
<div class="t lg" style="left:551.5px;color:#d020d0;">MA30:4085.78</div>
<div class="t lg" style="left:664px;color:#1fc81f;">MA60:4005.85</div>
<div class="t lg" style="left:776.5px;color:#8c8c8c;">MA100:3767.89</div>
<div class="t lg" style="left:898px;color:#e62828;">MA200:3495.2</div>
<div class="btn" style="left:1096.0px"><svg width="17" height="18" viewBox="0 0 17 18" style="position:absolute;left:-1.2px;top:-1.1px"><path d="M1 10.6h3.4M6 10.6h3.4M10.6 10.6h3.4M8.3 4v3.4M8.3 8.8v3.4M8.3 13.8v3" stroke="#9a9a9a" stroke-width="1.6" fill="none"/></svg></div>
<div class="btn" style="left:1116.0px"><svg width="17" height="18" viewBox="0 0 17 18" style="position:absolute;left:-1.2px;top:-1.1px"><path d="M4.3 4.5v12.5M2.6 15h12.5" stroke="#a0a0a0" stroke-width="1.1" fill="none"/><path d="M2.6 15l1.5-1.4v2.8zM15.4 15l-1.5-1.4v2.8zM4.3 4l1.4 1.6h-2.8z" fill="#a0a0a0"/><path d="M8.2 6v7" stroke="#a0a0a0" stroke-width="1.3"/><path d="M12.8 6.3v6.4l-3.8-3.2z" fill="#a0a0a0"/></svg></div>
<div class="btn" style="left:1136.0px"><svg width="17" height="18" viewBox="0 0 17 18" style="position:absolute;left:-1.2px;top:-1.1px"><path d="M4.3 4.5v12.5M2.6 15h12.5" stroke="#a0a0a0" stroke-width="1.1" fill="none"/><path d="M2.6 15l1.5-1.4v2.8zM15.4 15l-1.5-1.4v2.8zM4.3 4l1.4 1.6h-2.8z" fill="#a0a0a0"/><path d="M8.2 6.3v7.2l5.8-3.6z" fill="#a0a0a0"/></svg></div>
<div class="btn" style="left:1156.0px"><svg width="17" height="18" viewBox="0 0 17 18" style="position:absolute;left:-1.2px;top:-1.1px"><path d="M3.6 3.5h3.8v13.4h-3.8z" stroke="#909090" stroke-width="1.1" fill="none"/><path d="M5.5 10h5" stroke="#a0a0a0" stroke-width="1.6"/><path d="M6.2 10l2.2-2 0 4zM9.5 6.9v6.2l4.2-3.1z" fill="#b0b0b0"/></svg></div>
<div class="t ax" style="top:14.2px;">4517.30</div>
<div class="t ax" style="top:88.5px;">4323.31</div>
<div class="t ax" style="top:164.8px;">4129.33</div>
<div class="t ax" style="top:240.1px;">3935.34</div>
<div class="t ax" style="top:315.4px;">3741.35</div>
<div class="t ax" style="top:390.7px;">3547.37</div>
<div class="t ax" style="top:466.0px;">3353.38</div>
<div class="t ax" style="top:541.3px;">3159.39</div>
<div class="t" style="left:1175px;top:144px;width:84px;height:20px;border:1.3px solid #e8902a;background:#000;box-sizing:content-box;"></div>
<div class="t" style="left:1178.5px;top:146.8px;font-size:16.4px;color:#e8902a;transform:scaleX(0.945);transform-origin:0 0;">4206.46</div>
<svg class="t" style="left:1249.5px;top:133.3px" width="11" height="11" viewBox="0 0 11 11"><rect x="0" y="0" width="11" height="11" fill="#000"/><path d="M1 5.6L5.5 1l4.5 4.6zM1 10.8L5.5 6.2l4.5 4.6z" fill="#f0982e"/></svg>
<div class="t b" style="left:63.1px;top:420.4px;color:#e04652;">3451.14</div>
<div class="t b" style="left:151px;top:519.1px;color:#4cb487;">3247.87</div>
<div class="t b" style="left:851.4px;top:59.4px;color:#e04652;">4381.29</div>
<div class="t" style="left:1132.5px;top:575px;font-size:31px;letter-spacing:2.15px;color:#e8eefa;">FX678</div>
</body></html>
